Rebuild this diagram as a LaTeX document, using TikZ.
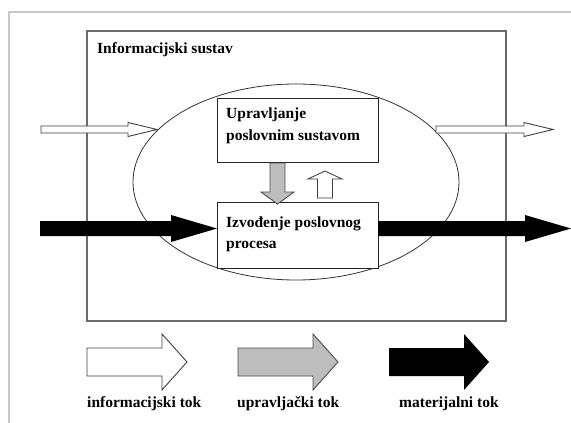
\documentclass[tikz,border=0pt]{standalone}
\usepackage{fontspec}
\setmainfont{Liberation Serif}
\newcommand{\harr}[7]{\path[#1] (#2,{#4-#5}) -- ({#3-#7},{#4-#5}) -- ({#3-#7},{#4-#6}) -- (#3,#4) -- ({#3-#7},{#4+#6}) -- ({#3-#7},{#4+#5}) -- (#2,{#4+#5}) -- cycle;}
\newcommand{\varr}[7]{\path[#1] ({#2-#5},#3) -- ({#2-#5},{#4-#7}) -- ({#2-#6},{#4-#7}) -- (#2,#4) -- ({#2+#6},{#4-#7}) -- ({#2+#5},{#4-#7}) -- ({#2+#5},#3) -- cycle;}
\definecolor{frameg}{HTML}{C8C8C8}
\definecolor{rectg}{HTML}{6A6A6A}
\definecolor{ctrlg}{HTML}{BDBDBD}
\tikzset{
  lbl/.style={anchor=base west, inner sep=0pt, font=\bfseries\fontsize{15.5}{20}\selectfont},
  procbox/.style={draw=black!85, line width=1pt, fill=white, minimum width=161pt, minimum height=64pt, inner sep=0pt},
  infoarrow/.style={draw=black!75, line width=0.9pt, fill=white, line join=miter},
  ctrlarrow/.style={draw=black!70, line width=0.9pt, fill=ctrlg, line join=miter},
  matarrow/.style={fill=black},
}
\begin{document}
\begin{tikzpicture}[x=1pt,y=-1pt]
\useasboundingbox (0,0) rectangle (571,423);
\fill[white] (0,0) rectangle (571,423);
% outer frame lines
\draw[frameg, line width=1.5pt] (9,423) -- (9,12) -- (571,12);
% main system rectangle
\node[draw=rectg, line width=1.1pt, minimum width=419pt, minimum height=290pt, inner sep=0pt] (sys) at (296.5,176) {};
\node[lbl] (syslbl) at (97,53) {Informacijski sustav};
% ellipse
\draw[black!80, line width=0.8pt] (296,182) ellipse [x radius=163, y radius=98];
% process boxes
\node[procbox] (upper) at (297.5,130) {};
\node[procbox, minimum height=66pt] (lower) at (297.5,235) {};
\node[lbl] (up1) at (226,118) {Upravljanje};
\node[lbl] (up2) at (226,140) {poslovnim sustavom};
\node[lbl] (lo1) at (226,227) {Izvođenje poslovnog};
\node[lbl] (lo2) at (226,248) {procesa};
% information flows (horizontal)
\harr{infoarrow}{41}{157}{129.5}{3.5}{7}{29}
\harr{infoarrow}{436}{553}{129.5}{3.5}{7}{29}
% material flows
\harr{matarrow}{40}{217}{228.5}{7.5}{13.5}{46}
\harr{matarrow}{378}{571}{228.5}{7.5}{13.5}{46}
% control flow (down) and information feedback (up)
\varr{ctrlarrow}{277.5}{163}{204}{7.5}{16.5}{12}
\varr{infoarrow}{325}{198}{171}{7.5}{17}{-8}
% legend
\harr{infoarrow}{87}{187}{362}{14}{28}{25}
\harr{ctrlarrow}{238}{338}{362}{14}{28}{25}
\harr{matarrow}{389}{489}{362}{14}{28}{25}
\node[lbl] (leg1) at (87,407) {informacijski tok};
\node[lbl] (leg2) at (237,407) {upravljački tok};
\node[lbl] (leg3) at (399,407) {materijalni tok};
\end{tikzpicture}
\end{document}
